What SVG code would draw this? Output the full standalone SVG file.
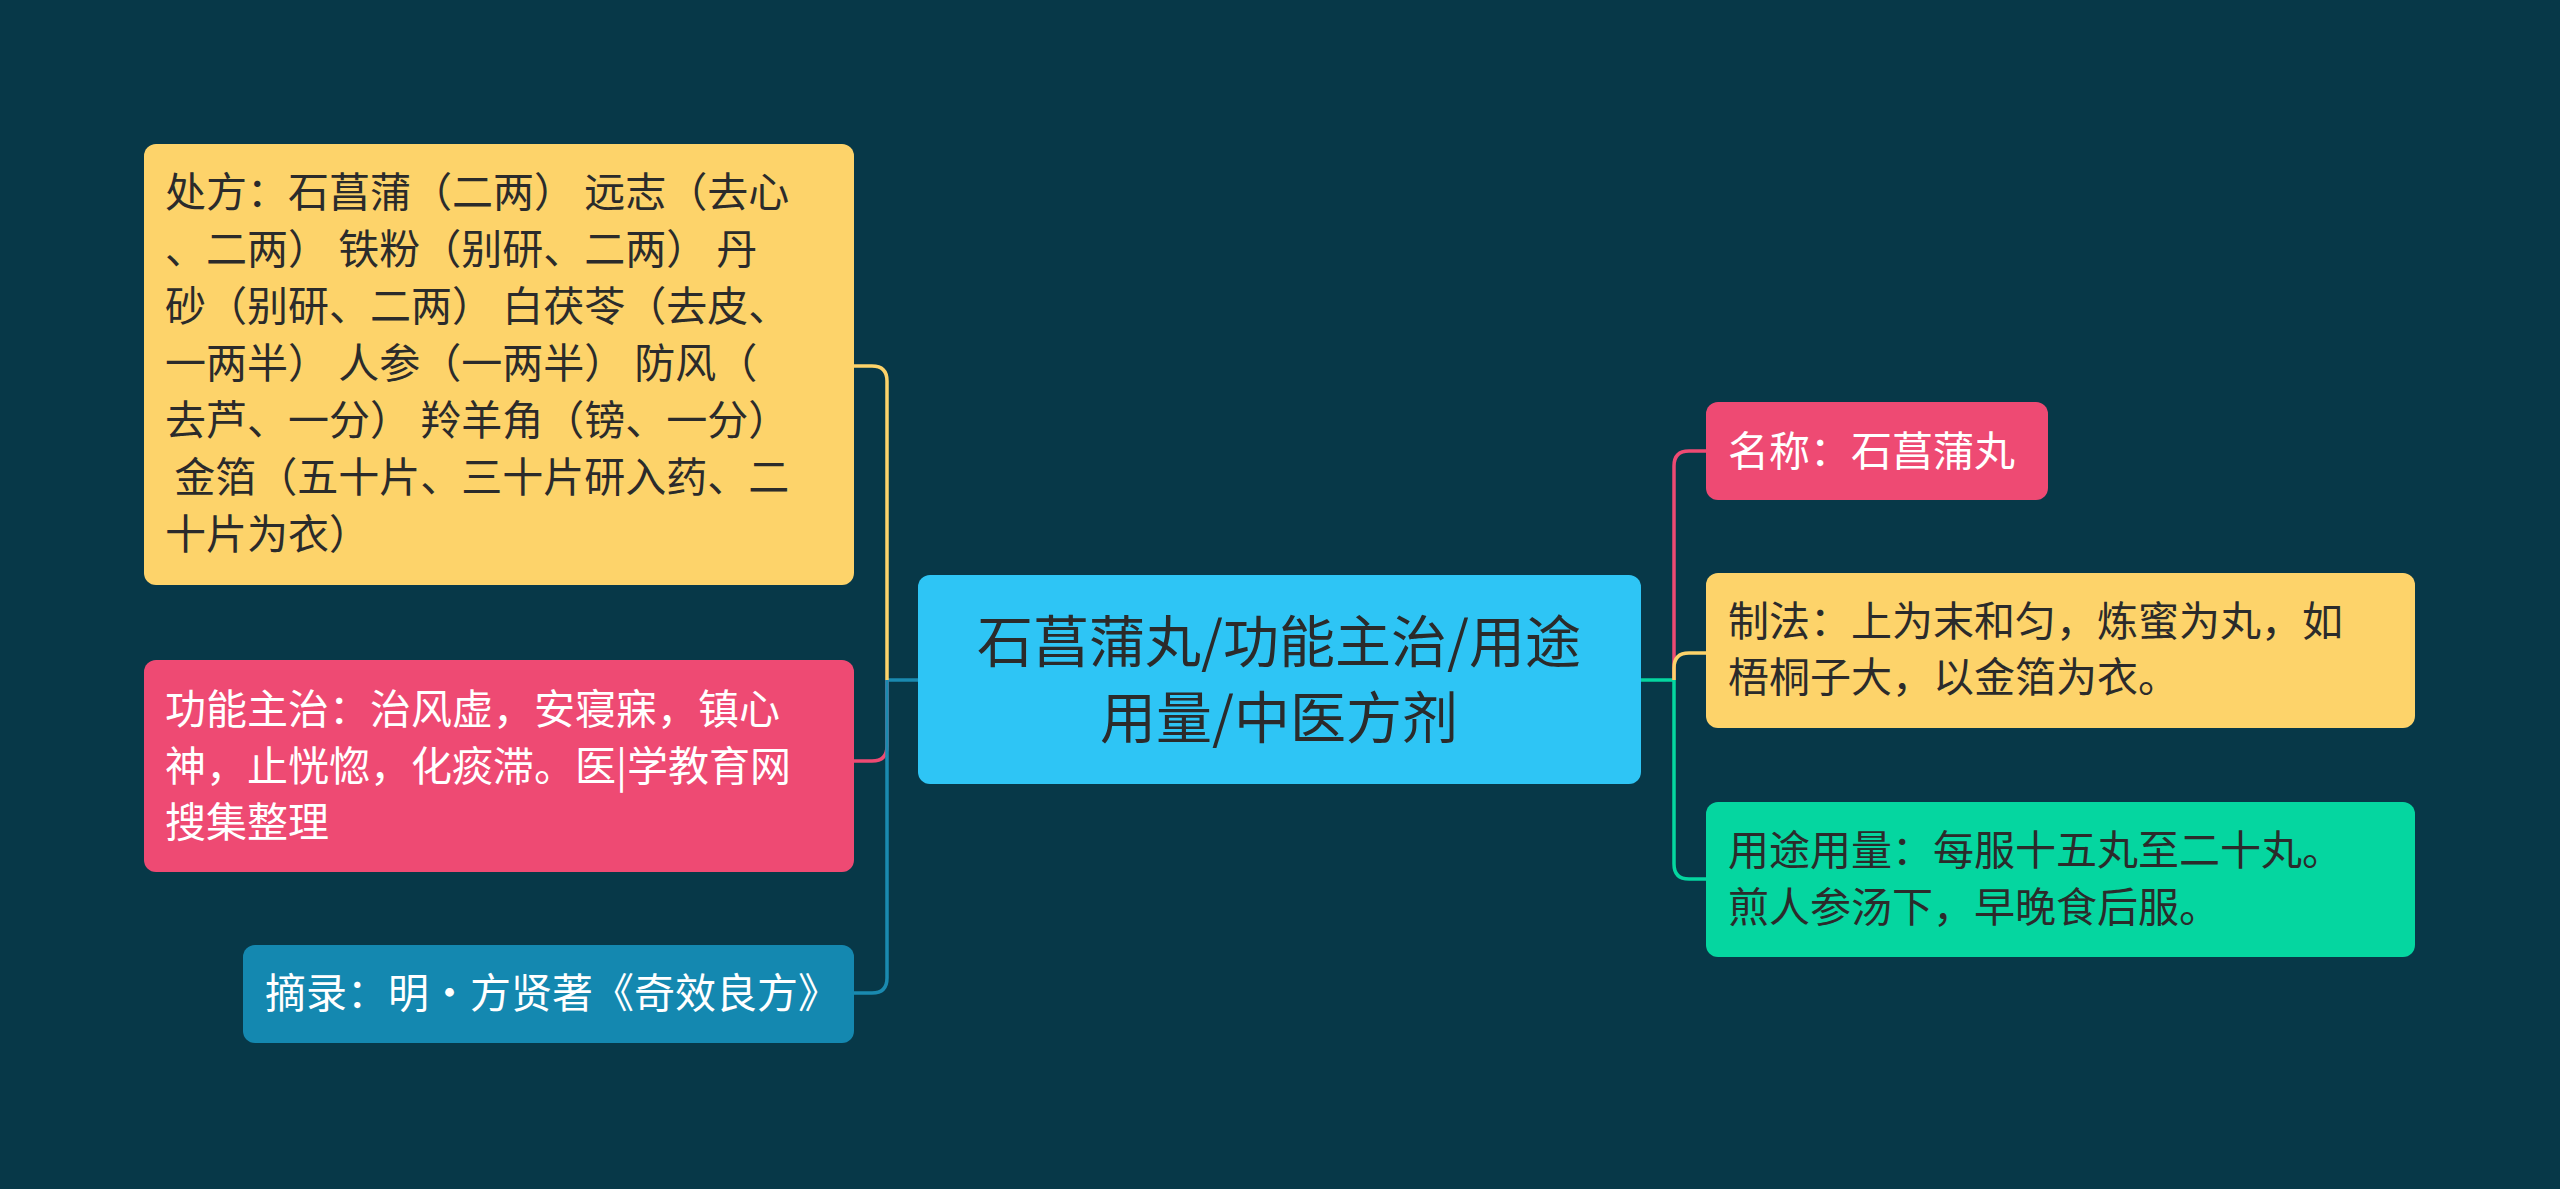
<svg xmlns="http://www.w3.org/2000/svg" width="2560" height="1189" viewBox="0 0 2560 1189">
<style>
text{font-family:"Noto Sans CJK SC","Noto Sans",sans-serif;font-size:41px}
.d{fill:#2b2b2b}.w{fill:#ffffff}
.big{font-size:56px}
.c{fill:none;stroke-width:3.5}
</style>
<rect width="2560" height="1189" fill="#073848"/>
<g id="connectors">
<path class="c" stroke="#1a8ab0" d="M918 680 H887"/>
<path class="c" stroke="#fdd36a" d="M887 680 V381 Q887 366 872 366 H854"/>
<path class="c" stroke="#ee4a73" d="M887 680 V746 Q887 761 872 761 H854"/>
<path class="c" stroke="#1a8ab0" d="M887 680 V978 Q887 993 872 993 H854"/>
<path class="c" stroke="#05d6a0" d="M1641 680 H1674"/>
<path class="c" stroke="#ee4a73" d="M1674 680 V466 Q1674 451 1689 451 H1706"/>
<path class="c" stroke="#fdd36a" d="M1674 680 V668 Q1674 653 1689 653 H1706"/>
<path class="c" stroke="#05d6a0" d="M1674 680 V864 Q1674 879 1689 879 H1706"/>
</g>
<g id="center">
<rect x="918" y="575" width="723" height="209" rx="12" fill="#2ec5f5"/>
<text class="d big" x="1279" y="662" text-anchor="middle">石菖蒲丸/功能主治/用途</text>
<text class="d big" x="1279" y="738" text-anchor="middle">用量/中医方剂</text>
</g>
<g id="n-prescription">
<rect x="144" y="144" width="710" height="441" rx="12" fill="#fdd36a"/>
<text class="d" x="165" y="207">处方：石菖蒲（二两） 远志（去心</text>
<text class="d" x="165" y="264">、二两） 铁粉（别研、二两） 丹</text>
<text class="d" x="165" y="321">砂（别研、二两） 白茯苓（去皮、</text>
<text class="d" x="165" y="378">一两半） 人参（一两半） 防风（</text>
<text class="d" x="165" y="435">去芦、一分） 羚羊角（镑、一分）</text>
<text class="d" x="165" y="492" xml:space="preserve"> 金箔（五十片、三十片研入药、二</text>
<text class="d" x="165" y="549">十片为衣）</text>
</g>
<g id="n-function">
<rect x="144" y="660" width="710" height="212" rx="12" fill="#ee4a73"/>
<text class="w" x="165" y="724">功能主治：治风虚，安寝寐，镇心</text>
<text class="w" x="165" y="781">神，止恍惚，化痰滞。医|学教育网</text>
<text class="w" x="165" y="837">搜集整理</text>
</g>
<g id="n-source">
<rect x="243" y="945" width="611" height="98" rx="12" fill="#1488b0"/>
<text class="w" x="265" y="1008">摘录：明·方贤著《奇效良方》</text>
</g>
<g id="n-name">
<rect x="1706" y="402" width="342" height="98" rx="12" fill="#ee4a73"/>
<text class="w" x="1728" y="466">名称：石菖蒲丸</text>
</g>
<g id="n-method">
<rect x="1706" y="573" width="709" height="155" rx="12" fill="#fdd36a"/>
<text class="d" x="1728" y="636">制法：上为末和匀，炼蜜为丸，如</text>
<text class="d" x="1728" y="692">梧桐子大，以金箔为衣。</text>
</g>
<g id="n-usage">
<rect x="1706" y="802" width="709" height="155" rx="12" fill="#05d6a0"/>
<text class="d" x="1728" y="865">用途用量：每服十五丸至二十丸。</text>
<text class="d" x="1728" y="922">煎人参汤下，早晚食后服。</text>
</g>
</svg>
